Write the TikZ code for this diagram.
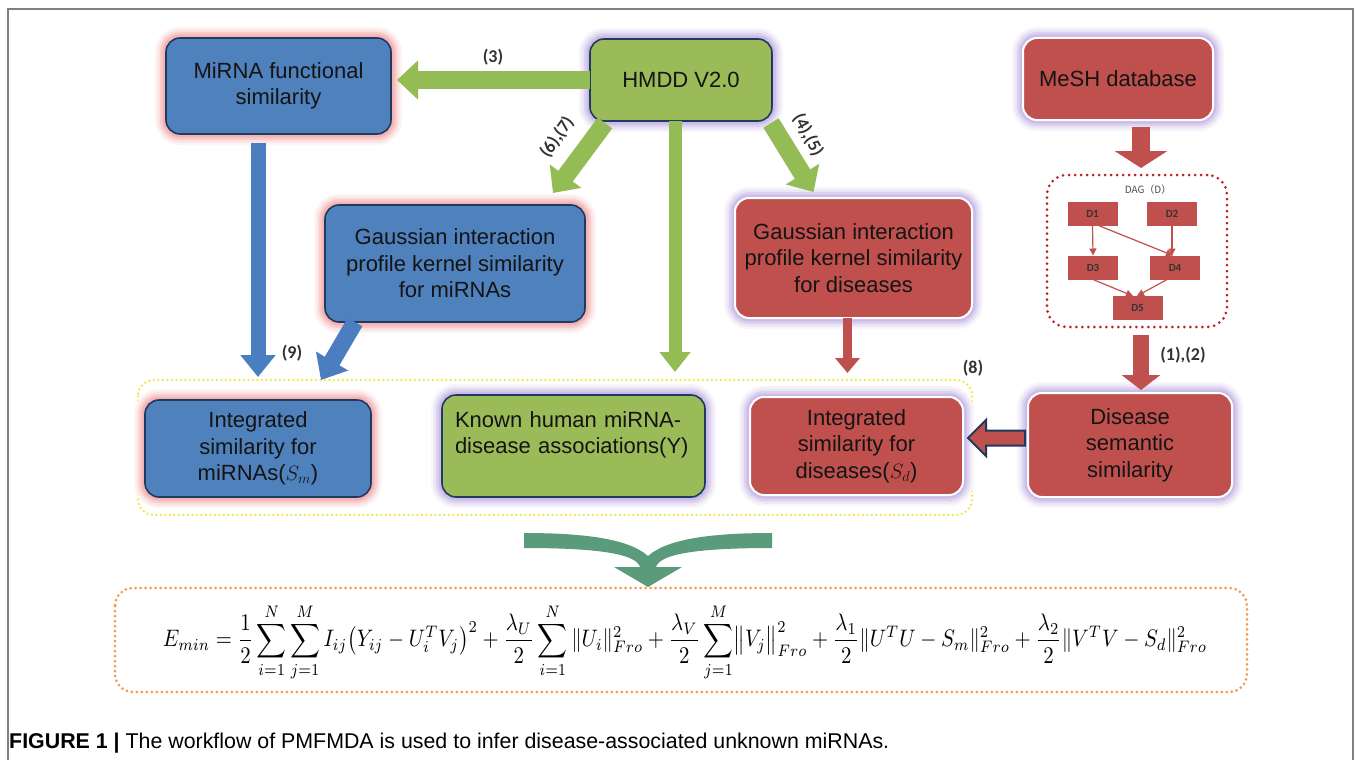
\documentclass[tikz,border=0pt]{standalone}
\usepackage{fontspec}
\setmainfont{Liberation Sans}
\newfontfamily\lblfont{Carlito}
\newfontfamily\cjkfont{Noto Sans CJK SC}
\usepackage{amsmath}
\usetikzlibrary{arrows.meta,calc}
\definecolor{boxblue}{HTML}{4F81BD}
\definecolor{boxgreen}{HTML}{9BBB59}
\definecolor{boxred}{HTML}{C0504D}
\definecolor{navy}{HTML}{1F3A5F}
\definecolor{glowpink}{HTML}{F29A9A}
\definecolor{glowpurple}{HTML}{B9A6E0}
\definecolor{arrgreen}{HTML}{93BC54}
\definecolor{arrblue}{HTML}{4A7EC0}
\definecolor{bigarrow}{HTML}{5A9B7B}
\definecolor{dotyellow}{HTML}{EEE83A}
\definecolor{dotorange}{HTML}{F59A4A}
\definecolor{dagred}{HTML}{B8242A}
\definecolor{framegray}{HTML}{808080}
\definecolor{lblgray}{HTML}{333333}
\tikzset{
  boxtext/.style={font=\fontsize{22}{26.5}\selectfont, text=black!92, align=center, inner sep=0pt, outer sep=0pt},
  glow/.style={preaction={draw=#1!12, line width=22pt}, preaction={draw=#1!28, line width=17pt},
    preaction={draw=#1!50, line width=12pt}, preaction={draw=#1!75, line width=7pt}},
  blueb/.style={boxtext, rounded corners=14pt, fill=boxblue, draw=navy, line width=1.6pt, glow=glowpink},
  greenb/.style={boxtext, rounded corners=14pt, fill=boxgreen, draw=navy, line width=1.6pt, glow=glowpurple},
  redb/.style={boxtext, rounded corners=14pt, fill=boxred, draw=white, line width=2pt, glow=glowpurple},
  dagframe/.style={draw=dagred, line width=3pt, dash pattern=on 0pt off 6pt, line cap=round, rounded corners=20pt, inner sep=0pt, outer sep=0pt},
  dagnode/.style={fill=boxred, minimum width=50pt, minimum height=24pt, inner sep=0pt, outer sep=0pt, font=\lblfont\bfseries\fontsize{11}{12}\selectfont, text=black!80},
  dagarrow/.style={draw=boxred, line width=1.2pt, -{Triangle[length=7pt,width=7pt]}},
  garrow/.style={draw=arrgreen, line width=18pt, -{Triangle[length=21pt,width=38pt]}},
  barrow/.style={draw=arrblue},
  rarrow/.style={draw=boxred},
  lbl/.style={font=\lblfont\bfseries\fontsize{18}{20}\selectfont, text=lblgray, inner sep=0pt},
}
\begin{document}
\begin{tikzpicture}[x=1pt,y=-1pt]
\useasboundingbox (0,0) rectangle (1357,760);
\fill[white] (0,0) rectangle (1357,760);
% frame
\draw[framegray, line width=1.5pt] (8,760) -- (8,9) -- (1353,9) -- (1353,760);
% dotted groups
\draw[dotyellow, line width=2.5pt, dash pattern=on 0pt off 4.5pt, line cap=round, rounded corners=16pt] (138,380) rectangle (972,515);
\draw[dotorange, line width=3pt, dash pattern=on 0pt off 5pt, line cap=round, rounded corners=18pt] (115,588) rectangle (1247,692);

% boxes
\node[blueb, minimum width=225pt, minimum height=96pt] (mirfun) at (278.5,86) {MiRNA functional\\similarity};
\node[greenb, minimum width=182pt, minimum height=82pt] (hmdd) at (681,80) {HMDD V2.0};
\node[redb, minimum width=190pt, minimum height=82pt] (mesh) at (1118,79) {MeSH database};
\node[blueb, minimum width=260pt, minimum height=117pt] (gmir) at (455,263.5) {Gaussian interaction\\profile kernel similarity\\for miRNAs};
\node[redb, minimum width=237pt, minimum height=120pt] (gdis) at (853.5,258) {Gaussian interaction\\profile kernel similarity\\for diseases};
\node[blueb, minimum width=226pt, minimum height=97pt] (intmir) at (258,448.5) {Integrated\\similarity for\\miRNAs($S_m$)};
\node[greenb, minimum width=263pt, minimum height=102pt, align=left, text width=237pt] (known) at (573.5,446) {Known human miRNA-\\disease associations(Y)\\\mbox{}};
\node[redb, minimum width=213pt, minimum height=98pt] (intdis) at (856.5,446) {Integrated\\similarity for\\diseases($S_d$)};
\node[redb, minimum width=204pt, minimum height=104pt] (dsem) at (1130,445) {Disease\\semantic\\similarity};

% DAG
\node[dagframe, minimum width=180pt, minimum height=152pt] (dag) at (1137,251) {};
\node[font=\cjkfont\fontsize{10}{12}\selectfont, text=black!70, inner sep=0pt] (daglbl) at (1148,190) {DAG（D）};
\node[dagnode] (d1) at (1092.5,213.5) {D1};
\node[dagnode] (d2) at (1172,213.5) {D2};
\node[dagnode] (d3) at (1093,267.5) {D3};
\node[dagnode] (d4) at (1175,267.5) {D4};
\node[dagnode] (d5) at (1137.5,308) {D5};
\draw[dagarrow] (d1.south) -- (d3.north);
\draw[dagarrow] (d2.south) -- (d2.south |- d4.north);
\draw[dagarrow] ($(d1.south)+(6,0)$) -- ($(d4.north)+(-2,0)$);
\draw[dagarrow] (d3.south) -- ($(d5.north)+(-4.5,0)$);
\draw[dagarrow] ($(d4.south)+(-8,0)$) -- ($(d5.north)+(-0.5,0)$);

% green arrows
\draw[garrow, shorten >=6pt] (hmdd.west) -- (hmdd.west -| mirfun.east);
\draw[garrow] ($(hmdd.south west)+(15,2)$) -- ($(gmir.north east)+(-32,-12)$);
\draw[garrow] ($(hmdd.south east)+(-1,2)$) -- ($(gdis.north)+(-40,-6)$);
\draw[garrow, line width=13pt, -{Triangle[length=20pt,width=30pt]}] ($(hmdd.south)+(-6,0)$) -- ($(hmdd.south |- known.north)+(-6,-23)$);
\node[lbl] (l3) at (493,57) {(3)};
\node[lbl, rotate=55] (l67) at (557,137) {(6),(7)};
\node[lbl, rotate=-62] (l45) at (808,135) {(4),(5)};

% blue arrows
\draw[barrow, line width=15pt, -{Triangle[length=22pt,width=34pt]}] ($(intmir.north |- mirfun.south)+(0,9)$) -- ($(intmir.north)+(0,-23)$);
\draw[barrow, line width=17pt, -{Triangle[length=22pt,width=36pt]}] ($(gmir.south west)+(30,0)$) -- ($(intmir.north east)+(-50,-20)$);
\node[lbl] (l9) at (292,353) {(9)};

% red arrows
\draw[rarrow, line width=9pt, -{Triangle[length=15pt,width=24pt]}] ($(gdis.south)+(-6,0)$) -- ($(gdis.south |- intdis.north)+(-6,-24)$);
\draw[rarrow, line width=18pt, -{Triangle[length=17pt,width=52pt]}] ($(mesh.south)+(23,7)$) -- ($(dag.north)+(4,-7)$);
\draw[rarrow, line width=16pt, -{Triangle[length=15pt,width=38pt]}] ($(dag.south)+(4,8)$) -- ($(dsem.north)+(11,-3)$);
\node[lbl] (l12) at (1183,355) {(1),(2)};
\node[lbl] (l8) at (973,368) {(8)};
\draw[fill=boxred, draw=navy, line width=2pt, line join=miter] ($(dsem.west)+(-3,-14.5)$) -- ++(-39,0) -- ++(0,-10.5) -- ++(-18,18) -- ++(18,18) -- ++(0,-10.5) -- ++(39,0) -- cycle;

% big merging arrow
\fill[bigarrow] (524,533) .. controls (590,533) and (630,540) .. (648,556)
  .. controls (666,540) and (706,533) .. (772,533) -- (772,548)
  .. controls (710,548) and (660,552) .. (656,567) -- (682,567) -- (648,587) -- (614,567) -- (640,567)
  .. controls (636,552) and (586,548) .. (524,548) -- cycle;

% formula
\node[inner sep=0pt] (formula) at (685,642) {\scalebox{1}[1.15]{\resizebox{1044pt}{!}{$\displaystyle E_{min}=\frac{1}{2}\sum_{i=1}^{N}\sum_{j=1}^{M} I_{ij}\bigl(Y_{ij}-U_i^TV_j\bigr)^2+\frac{\lambda_U}{2}\sum_{i=1}^{N}\|U_i\|_{Fro}^2+\frac{\lambda_V}{2}\sum_{j=1}^{M}\bigl\|V_j\bigr\|_{Fro}^2+\frac{\lambda_1}{2}\|U^TU-S_m\|_{Fro}^2+\frac{\lambda_2}{2}\|V^TV-S_d\|_{Fro}^2$}}};

% caption
\node[anchor=base west, inner sep=0pt] (cap) at (9,748) {\resizebox{880pt}{!}{\fontsize{19}{22}\selectfont\textbf{FIGURE 1 |} The workflow of PMFMDA is used to infer disease-associated unknown miRNAs.}};
\end{tikzpicture}
\end{document}
